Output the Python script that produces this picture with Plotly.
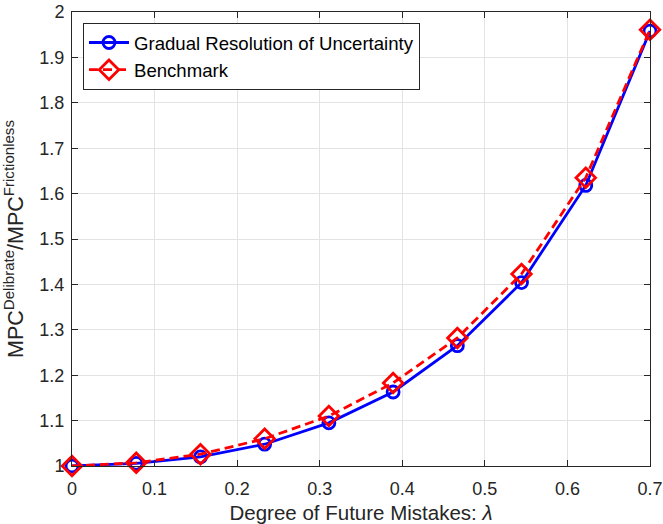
import plotly.graph_objects as go

lam = [0.0, 0.0778, 0.1556, 0.2333, 0.3111, 0.3889, 0.4667, 0.5444, 0.6222, 0.7]
gradual = [1.0, 1.006, 1.020, 1.048, 1.095, 1.163, 1.265, 1.404, 1.618, 1.958]
benchmark = [1.0, 1.007, 1.026, 1.060, 1.110, 1.183, 1.282, 1.423, 1.635, 1.961]
xticks = [0, 0.1, 0.2, 0.3, 0.4, 0.5, 0.6, 0.7]
yticks = [1, 1.1, 1.2, 1.3, 1.4, 1.5, 1.6, 1.7, 1.8, 1.9, 2]

FONT = "Liberation Sans, Arial, Helvetica"
fig = go.Figure()
fig.add_trace(go.Scatter(
    x=lam, y=gradual, mode="lines+markers", name="Gradual Resolution of Uncertainty",
    line=dict(color="#0000ff", width=2.8),
    marker=dict(symbol="circle-open", size=12, color="#0000ff", line=dict(width=2.8)),
    cliponaxis=False))
fig.add_trace(go.Scatter(
    x=lam, y=benchmark, mode="lines+markers", name="Benchmark",
    line=dict(color="#ff0000", width=2.8, dash="9px,5px"),
    marker=dict(symbol="diamond-open", size=15, color="#ff0000", line=dict(width=2.8)),
    cliponaxis=False))

axis_common = dict(
    showgrid=True, gridcolor="#e3e3e3", gridwidth=1,
    showline=True, linecolor="#262626", linewidth=1, mirror="ticks",
    ticks="inside", ticklen=6, tickcolor="#262626", automargin=False,
    ticklabeloverflow="allow",
    zeroline=False, tickfont=dict(family=FONT, size=18, color="#262626"),
)
fig.update_xaxes(range=[0, 0.7], tickvals=xticks, ticktext=[f"{t:g}" for t in xticks],
                 ticklabelstandoff=6,
                 title=dict(text="Degree of Future Mistakes: <i>λ</i>", standoff=8,
                            font=dict(family=FONT, size=20.5, color="#262626")),
                 **axis_common)
fig.update_yaxes(range=[1, 2], tickvals=yticks, ticktext=[f"{t:g}" for t in yticks],
                 ticklabelstandoff=3,
                 title=dict(text="MPC<sup>Delibrate</sup>/MPC<sup>Frictionless</sup>", standoff=11,
                            font=dict(family=FONT, size=21.5, color="#262626")),
                 **axis_common)
fig.update_layout(
    width=663, height=524,
    margin=dict(l=72, r=13, t=12, b=58),
    plot_bgcolor="white", paper_bgcolor="white",
    showlegend=True,
    legend=dict(x=0.019, y=0.976, xanchor="left", yanchor="top",
                bgcolor="white", bordercolor="#262626", borderwidth=1,
                font=dict(family=FONT, size=18.6, color="#000000"),
                tracegroupgap=0, itemwidth=40),
)
fig.write_html("out.html", config={"displayModeBar": False},
               post_script="document.body.style.margin='0';")
